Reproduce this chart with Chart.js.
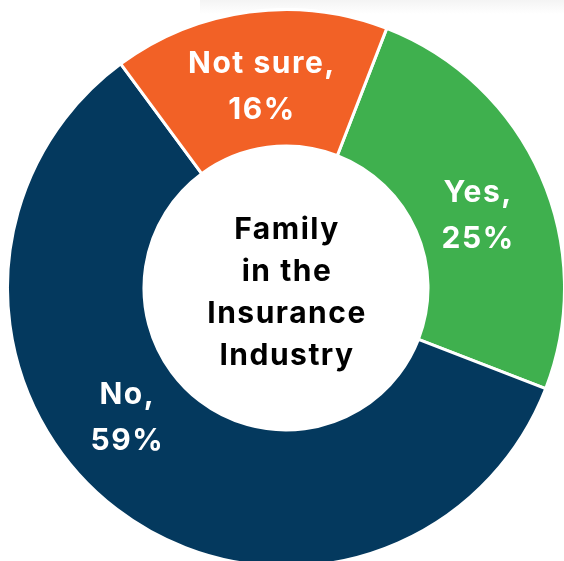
<!DOCTYPE html>
<html>
<head>
<meta charset="utf-8">
<script src="https://cdn.jsdelivr.net/npm/chart.js@4.4.1/dist/chart.umd.min.js"></script>
<style>
  html, body { margin: 0; padding: 0; background: #fff; overflow: hidden; }
  body { width: 564px; height: 561px; position: relative; }
  .topband { position: absolute; left: 200px; top: 0; width: 364px; height: 14px;
    background: linear-gradient(#f4f4f4, #ffffff); }
  #wrap { position: absolute; left: 6px; top: 8px; width: 560px; height: 560px; }
</style>
</head>
<body>
<div class="topband"></div>
<div id="wrap"><canvas id="donut"></canvas></div>
<script>
// data
const categories = ['Yes', 'No', 'Not sure'];
const shares = [25, 59, 16];
const sliceColors = ['#3FB04E', '#04395E', '#F26126'];
const centerTitle = ['Family', 'in the', 'Insurance', 'Industry'];

const FONT = '"Inter", "Open Sans", sans-serif';

// writes "Yes, 25%" inside each slice and the title in the hole
const donutText = {
  id: 'donutText',
  afterDatasetsDraw(chart, args, opts) {
    const { ctx } = chart;
    const meta = chart.getDatasetMeta(0);
    ctx.save();
    ctx.textAlign = 'center';
    ctx.textBaseline = 'alphabetic';
    ctx.letterSpacing = '1.5px';
    ctx.fillStyle = '#ffffff';
    ctx.font = '700 30px ' + FONT;
    meta.data.forEach((arc, i) => {
      const p = arc.getProps(['x', 'y', 'startAngle', 'endAngle', 'innerRadius', 'outerRadius'], true);
      const f = opts.along[i];
      const a = p.startAngle + (p.endAngle - p.startAngle) * f;
      const r = p.innerRadius + (p.outerRadius - p.innerRadius) * opts.across;
      const x = p.x + Math.cos(a) * r;
      const y = p.y + Math.sin(a) * r;
      const lines = [categories[i] + ',', shares[i] + '%'];
      lines.forEach((t, k) => {
        ctx.fillText(t, x + 1, y + (k - 0.5) * 46 + 11);
      });
    });
    const c = meta.data[0];
    ctx.fillStyle = '#000000';
    ctx.font = '700 30px ' + FONT;
    centerTitle.forEach((t, k) => {
      ctx.fillText(t, c.x + 1, c.y + (k - 1.5) * 42 + 14);
    });
    ctx.restore();
  }
};

new Chart(document.getElementById('donut'), {
  type: 'doughnut',
  data: {
    labels: categories,
    datasets: [{
      data: shares,
      backgroundColor: sliceColors,
      borderColor: '#ffffff',
      borderWidth: 3,
      hoverOffset: 0
    }]
  },
  options: {
    responsive: true,
    maintainAspectRatio: false,
    animation: false,
    rotation: 21.2,
    cutout: '51%',
    layout: { padding: 0 },
    plugins: {
      legend: { display: false },
      tooltip: { enabled: false },
      donutText: { along: [0.53, 0.565, 0.51], across: 0.46 }
    }
  },
  plugins: [donutText]
});
</script>
</body>
</html>
